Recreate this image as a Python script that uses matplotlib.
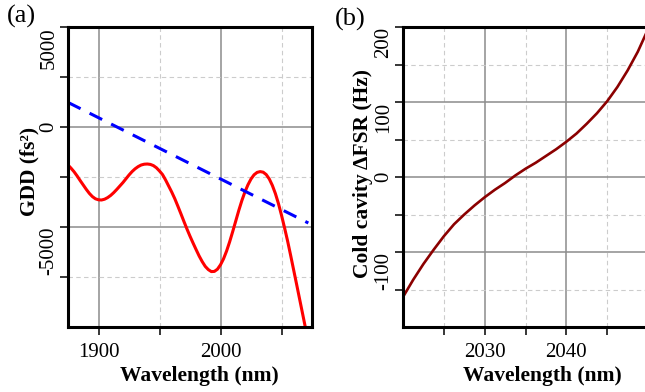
import numpy as np
import matplotlib
matplotlib.use("Agg")
import matplotlib.pyplot as plt

plt.rcParams['font.family'] = ['Liberation Serif', 'DejaVu Serif']
plt.rcParams['axes.unicode_minus'] = False

# ---- panel (a): group delay dispersion ----
wl_a = [1875, 1877.5, 1880, 1882.5, 1885, 1887.5, 1890, 1892.5, 1895, 1897.5,
        1900, 1902.5, 1905, 1907.5, 1910, 1912.5, 1915, 1917.5, 1920, 1922.5,
        1925, 1927.5, 1930, 1932.5, 1935, 1937.5, 1940, 1942.5, 1945, 1947.5,
        1950, 1952.5, 1955, 1957.5, 1960, 1962.5, 1965, 1967.5, 1970, 1972.5,
        1975, 1977.5, 1980, 1982.5, 1985, 1987.5, 1990, 1992.5, 1995, 1997.5,
        2000, 2002.5, 2005, 2007.5, 2010, 2012.5, 2015, 2017.5, 2020, 2022.5,
        2025, 2027.5, 2030, 2032.5, 2035, 2037.5, 2040, 2042.5, 2045, 2047.5,
        2050, 2052.5, 2055, 2057.5, 2060, 2062.5, 2065, 2067.5, 2070, 2072]
gdd_a = [-1900, -2060, -2240, -2450, -2680, -2900, -3120, -3320, -3480, -3590,
         -3640, -3650, -3610, -3530, -3420, -3280, -3120, -2950, -2780, -2590,
         -2400, -2230, -2090, -1980, -1900, -1860, -1850, -1870, -1930, -2040,
         -2200, -2380, -2650, -2950, -3250, -3580, -3950, -4330, -4720, -5100,
         -5460, -5800, -6130, -6450, -6730, -6970, -7130, -7230, -7220, -7110,
         -6890, -6590, -6200, -5740, -5230, -4700, -4170, -3680, -3250, -2890,
         -2600, -2390, -2270, -2230, -2260, -2380, -2600, -2920, -3330, -3830,
         -4410, -5040, -5700, -6420, -7160, -7900, -8650, -9400, -10150, -10800]
wl_lin = [1875, 2072]
gdd_lin = [1230, -4800]

# ---- panel (b): cold cavity FSR change ----
wl_b = [2020, 2021.25, 2022.5, 2023.75, 2025, 2026.25, 2027.5, 2028.75, 2030,
        2031.25, 2032.5, 2033.75, 2035, 2036.25, 2037.5, 2038.75, 2040,
        2041.25, 2042.5, 2043.75, 2045, 2046.25, 2047.5, 2048.75, 2050]
fsr_b = [-160, -137, -116, -97, -79, -63, -50, -38, -27, -17, -8, 2, 11, 19,
         28, 37, 47, 58, 71, 85, 101, 120, 142, 167, 197]

fig = plt.figure(figsize=(6.45, 3.92), dpi=100)
ax1 = fig.add_axes([68/645, 1-327/392, 244/645, 300/392])
ax2 = fig.add_axes([403/645, 1-327/392, 245/645, 300/392])

ax1.plot(wl_a, gdd_a, color='#ff0000', lw=2.2, zorder=3)
ax1.plot(wl_lin, gdd_lin, color='#0000ff', lw=2.2, dashes=(4.6, 3.3), zorder=3)
ax2.plot(wl_b, fsr_b, color='#8b0000', lw=1.9, zorder=3)

ax1.set_xlim(1875, 2075)
ax1.set_ylim(-10000, 5000)
ax1.set_xticks([1900, 2000])
ax1.set_xticks([1950, 2050], minor=True)
ax1.set_yticks([-5000, 0, 5000])
ax1.set_yticks([-7500, -2500, 2500], minor=True)

ax2.set_xlim(2020, 2050)
ax2.set_ylim(-200, 200)
ax2.set_xticks([2030, 2040])
ax2.set_xticks([2025, 2035, 2045], minor=True)
ax2.set_yticks([-100, 0, 100, 200])
ax2.set_yticks([-150, -50, 50, 150], minor=True)

for ax in (ax1, ax2):
    ax.set_axisbelow(True)
    ax.grid(which='major', color='#8c8c8c', lw=1.1, ls='-')
    ax.grid(which='minor', color='#cccccc', lw=0.8, ls=(0, (4, 3)))
    for s in ax.spines.values():
        s.set_linewidth(2.2)
        s.set_zorder(5)
    ax.tick_params(which='both', direction='out', length=5.8, width=1.1,
                   labelsize=15, top=False, right=False)
    ax.tick_params(axis='x', which='both', pad=6)
    ax.tick_params(axis='y', which='both', pad=1)
    for lab in ax.get_yticklabels():
        lab.set_rotation(90)
        lab.set_va('center' if lab.get_text() == '0' else 'top')

ax1.set_xlabel('Wavelength (nm)', fontsize=15.5, fontweight='bold')
ax1.set_ylabel('GDD (fs²)', fontsize=15.5, fontweight='bold')
ax1.xaxis.set_label_coords(0.537, -0.13)
ax1.yaxis.set_label_coords(-0.115, 0.52)

ax2.set_xlabel('Wavelength (nm)', fontsize=15.5, fontweight='bold')
ax2.set_ylabel('Cold cavity ΔFSR (Hz)', fontsize=15.5, fontweight='bold')
ax2.xaxis.set_label_coords(0.57, -0.13)
ax2.yaxis.set_label_coords(-0.123, 0.51)

fig.text(7/645, 1-5/392, '(a)', fontsize=19, va='top', ha='left')
fig.text(335/645, 1-8/392, '(b)', fontsize=19, va='top', ha='left')

fig.savefig('out.png', dpi=100)
